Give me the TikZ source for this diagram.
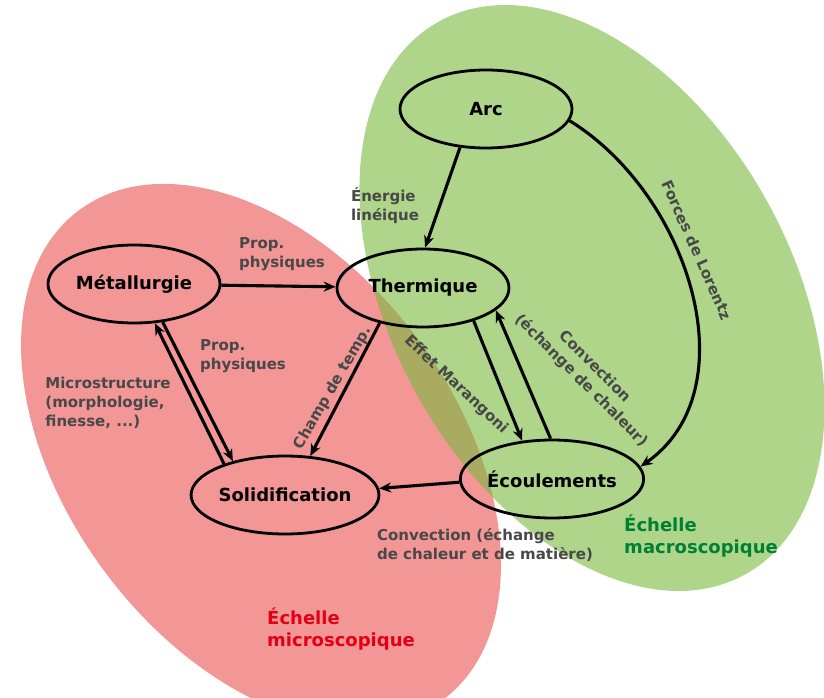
\documentclass[tikz,border=0pt]{standalone}
\usepackage{fontspec}
\setmainfont{DejaVu Sans}
\usepackage{tikz}
\usetikzlibrary{shapes.geometric, arrows.meta, positioning}
\usepackage{xcolor}
\definecolor{microred}{RGB}{242,150,150}
\definecolor{macrogreen}{RGB}{120,185,60}
\definecolor{labgray}{RGB}{72,72,72}
\definecolor{microtext}{RGB}{228,0,20}
\definecolor{macrotext}{RGB}{0,128,51}
\newcommand{\stagefont}{\fontsize{18}{21.5}\selectfont\bfseries}
\newcommand{\linkfont}{\fontsize{15}{19}\selectfont\bfseries}

\begin{document}
\begin{tikzpicture}[x=1pt, y=-1pt,
    stage/.style={ellipse, draw, line width=2.8pt, minimum width=172pt, minimum height=78pt, inner sep=0pt, font=\stagefont},
    arrow/.style={-{Stealth[length=12pt, width=10pt]}, line width=3.1pt},
    link/.style={font=\linkfont, text=labgray, align=left},
    scalelabel/.style={font=\stagefont, align=left}
]
    \useasboundingbox (0,0) rectangle (824,698);
    \clip (0,0) rectangle (824,698);

    % Scales
    \fill[microred, rotate around={-53.4:(261,455)}] (261,455) ellipse [x radius=305pt, y radius=195pt];
    \fill[macrogreen, fill opacity=0.6, rotate around={-61:(592,298)}] (592,298) ellipse [x radius=316pt, y radius=200pt];

    % Components
    \node[stage] (arc) at (486,109) {Arc};
    \node[stage] (therm) at (423,288) {Thermique};
    \node[stage] (metal) at (134,284) {Métallurgie};
    \node[stage, minimum width=166pt] (solid) at (285,495) {Solidification};
    \node[stage] (ecoul) at (552,479) {Écoulements};

    % Arrows
    \draw[arrow] (arc.-124) -- (therm.87);
    \draw[arrow] (metal) -- (therm);
    \draw[arrow] (solid.153) -- (metal.-62);
    \draw[arrow] (metal.-53) -- (solid.147);
    \draw[arrow] (therm.-141) -- (solid.57);
    \draw[arrow] (therm.-33) -- (ecoul.128);
    \draw[arrow] (ecoul.92) -- (therm.-17);
    \draw[arrow] (arc.-8) .. controls (690,195) and (750,390) .. (ecoul.8);
    \draw[arrow] (ecoul.182) -- (solid.4);

    % Labels
    \node[link] (energie) at (385,206) {Énergie\\linéique};
    \node[link] (propa) at (282,254) {Prop.\\physiques};
    \node[link] (propb) at (243,356) {Prop.\\physiques};
    \node[link] (struct) at (108,403) {Microstructure\\(morphologie,\\finesse, ...)};
    \node[link, rotate=60] (champ) at (333,388) {Champ de temp.};
    \node[link, rotate=-43] (maran) at (456,385) {Effet Marangoni};
    \node[link, rotate=-45, align=center] (convth) at (588,374) {Convection\\(échange de chaleur)};
    \node[link, rotate=-66] (lorentz) at (697,250) {Forces de Lorentz};
    \node[link] (convsol) at (485,545) {Convection (échange\\de chaleur et de matière)};
    \node[scalelabel, text=macrotext] (macro) at (701,536) {Échelle\\macroscopique};
    \node[scalelabel, text=microtext] (micro) at (341,629) {Échelle\\microscopique};
\end{tikzpicture}
\end{document}
